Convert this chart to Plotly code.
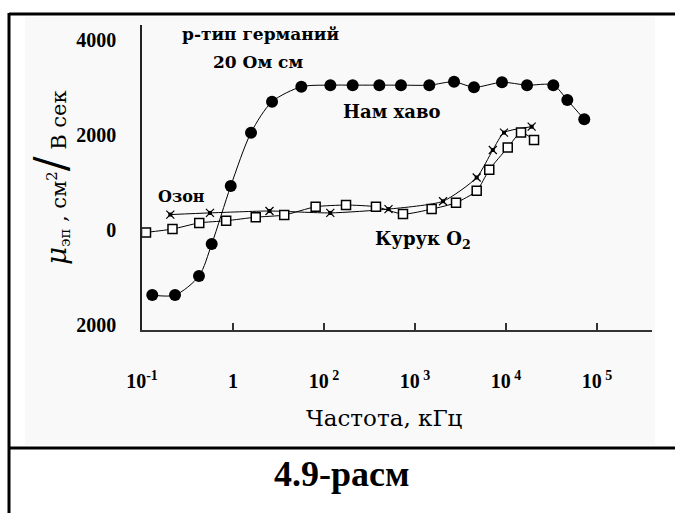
import plotly.graph_objects as go

# Axis position in decade steps: 0 -> 10^-1, 1 -> 1, 2 -> 10^2, ... 5 -> 10^5
tick_pos = [0, 1, 2, 3, 4, 5]
tick_text = ["10<sup>-1</sup>", "1", "10<sup> 2</sup>", "10<sup> 3</sup>",
             "10<sup> 4</sup>", "10<sup> 5</sup>"]

y_tick_vals = [-2000, 0, 2000, 4000]
y_tick_text = ["2000", "0", "2000", "4000"]

# Нам хаво (moist air)
air_x = [0.113, 0.363, 0.626, 0.766, 0.975, 1.198, 1.429, 1.751, 2.07, 2.315,
         2.608, 2.846, 3.157, 3.429, 3.648, 3.956, 4.231, 4.52, 4.674, 4.86]
air_mu = [-1360, -1360, -960, -285, 935, 2060, 2710, 3025, 3060, 3060,
          3060, 3060, 3060, 3130, 3015, 3120, 3060, 3060, 2745, 2340]

# Курук O2 (dry oxygen)
dry_x = [0.044, 0.335, 0.629, 0.925, 1.25, 1.563, 1.908, 2.242, 2.571, 2.868,
         3.183, 3.451, 3.678, 3.816, 4.019, 4.165, 4.308]
dry_mu = [-40, 30, 160, 205, 280, 325, 500, 535, 500, 345,
          450, 585, 835, 1280, 1745, 2065, 1905]

# Озон (ozone)
ozone_x = [0.311, 0.747, 1.401, 2.069, 2.709, 3.308, 3.678, 3.855, 3.978, 4.282]
ozone_mu = [335, 370, 410, 370, 450, 615, 1115, 1695, 2060, 2185]

W, H = 675, 513
L, R, T, B = 142, 23, 25, 183
PW, PH = W - L - R, H - T - B


def px(x):
    return (x - L) / PW


def py(y):
    return (H - B - y) / PH


fig = go.Figure()

fig.add_trace(go.Scatter(
    x=air_x, y=air_mu, mode="lines+markers",
    line=dict(color="black", width=1, shape="spline", smoothing=0.8),
    marker=dict(symbol="circle", size=12, color="black"),
    showlegend=False))

fig.add_trace(go.Scatter(
    x=ozone_x, y=ozone_mu, mode="lines+markers",
    line=dict(color="black", width=1, shape="spline", smoothing=0.6),
    marker=dict(symbol="x-thin-open", size=8, line=dict(color="black", width=1.2)),
    showlegend=False))
fig.add_trace(go.Scatter(
    x=ozone_x, y=ozone_mu, mode="markers",
    marker=dict(symbol="square", size=4, color="black"),
    showlegend=False))

fig.add_trace(go.Scatter(
    x=dry_x, y=dry_mu, mode="lines+markers",
    line=dict(color="black", width=1, shape="spline", smoothing=0.6),
    marker=dict(symbol="square", size=9, color="white",
                line=dict(color="black", width=1.5)),
    showlegend=False))


def bold_serif(size):
    return dict(family="DejaVu Serif", size=size, color="black", weight="bold")


annotations = [
    dict(x=1.297, y=4137, text="р-тип германий", font=bold_serif(17)),
    dict(x=1.275, y=3547, text="20 Ом см", font=bold_serif(17)),
    dict(x=0.429, y=726, text="Озон", font=bold_serif(16)),
    dict(x=2.747, y=2495, text="Нам хаво", font=bold_serif(18)),
    dict(x=3.088, y=-190, text="Курук O<sub>2</sub>", font=bold_serif(18)),
]
for a in annotations:
    a.update(xref="x", yref="y", showarrow=False, xanchor="center", yanchor="middle")

annotations += [
    dict(xref="paper", yref="paper", x=px(50), y=py(178), textangle=-90,
         text="<i><span style='font-size:28px'>μ</span></i>"
              "<sub>эп</sub> , см<sup>2</sup>"
              "<span style='font-size:44px'>/</span> В сек",
         font=dict(family="DejaVu Serif", size=21, color="black"),
         showarrow=False, xanchor="center", yanchor="middle"),
    dict(xref="paper", yref="paper", x=px(384), y=py(418),
         text="Частота, кГц",
         font=dict(family="DejaVu Serif", size=23, color="black"),
         showarrow=False, xanchor="center", yanchor="middle"),
    dict(xref="paper", yref="paper", x=px(342), y=py(474),
         text="4.9-расм",
         font=dict(family="Liberation Serif", size=36, color="black", weight="bold"),
         showarrow=False, xanchor="center", yanchor="middle"),
]

shapes = [
    # faint image background
    dict(type="rect", xref="paper", yref="paper", x0=px(25), x1=px(655),
         y0=py(445), y1=py(17), fillcolor="#f9f9f9", line=dict(width=0), layer="below"),
    # frame lines of the figure table
    dict(type="line", xref="paper", yref="paper", x0=px(9), x1=px(676),
         y0=py(14), y1=py(14), line=dict(color="black", width=3)),
    dict(type="line", xref="paper", yref="paper", x0=px(9), x1=px(676),
         y0=py(448), y1=py(448), line=dict(color="black", width=3)),
    dict(type="line", xref="paper", yref="paper", x0=px(9), x1=px(9),
         y0=py(13), y1=py(514), line=dict(color="black", width=3)),
]

fig.update_layout(
    width=W, height=H,
    margin=dict(l=L, r=R, t=T, b=B),
    paper_bgcolor="white", plot_bgcolor="rgba(0,0,0,0)",
    annotations=annotations, shapes=shapes,
    xaxis=dict(range=[0, 510 / 91], tickvals=tick_pos, ticktext=tick_text,
               showline=True, linecolor="#333", linewidth=2,
               ticks="inside", ticklen=7, tickwidth=2, tickcolor="#333",
               showgrid=False, zeroline=False, ticklabelstandoff=32,
               tickfont=dict(family="Liberation Serif", size=20, color="black", weight="bold")),
    yaxis=dict(range=[-2095, 4326], tickvals=y_tick_vals, ticktext=y_tick_text,
               showline=True, linecolor="#222", linewidth=1.5, ticks="",
               showgrid=False, zeroline=False, ticklabelstandoff=20,
               tickfont=dict(family="Liberation Serif", size=20, color="black", weight="bold")),
)

fig.write_html("out.html")
